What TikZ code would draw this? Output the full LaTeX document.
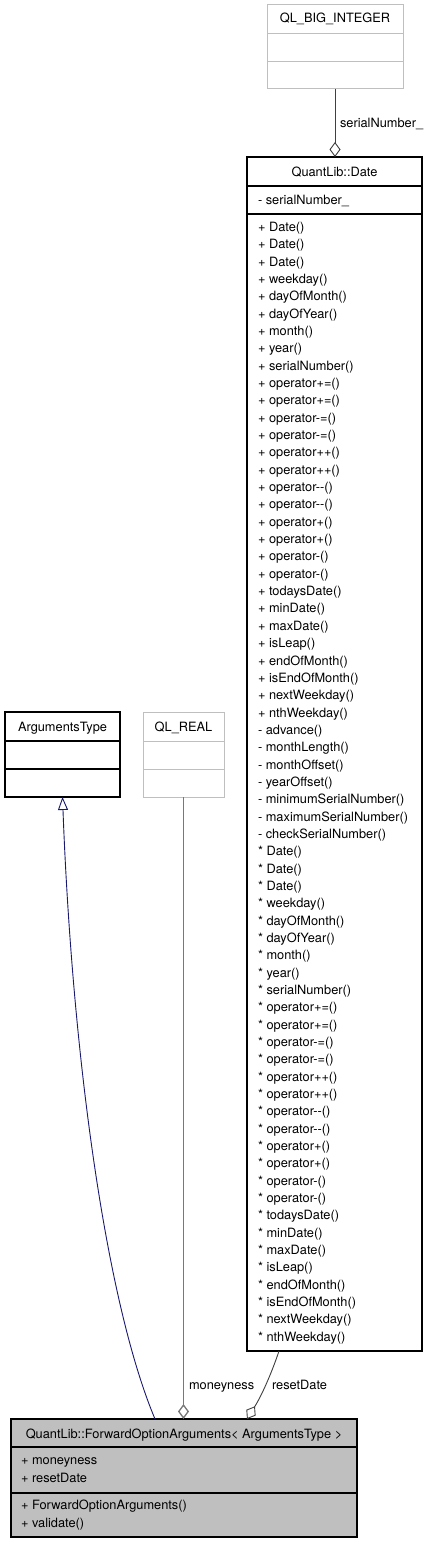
\documentclass[tikz,border=0pt]{standalone}
\usepackage{fontspec}
\setmainfont{TeX Gyre Heros}
\usetikzlibrary{arrows.meta}
\definecolor{boxgray}{RGB}{191,191,191}
\definecolor{darkedge}{RGB}{64,64,64}
\definecolor{midedge}{RGB}{120,120,120}
\definecolor{navyedge}{RGB}{25,25,112}
\tikzset{
  txt/.style={font=\fontsize{12.8}{15}\selectfont, inner sep=0pt, outer sep=0pt},
  boxblack/.style={draw=black, line width=1.2pt, inner sep=0pt, outer sep=0pt, anchor=north west},
  boxlight/.style={draw=boxgray, line width=1pt, inner sep=0pt, outer sep=0pt, anchor=north west},
  boxfill/.style={draw=black, fill=boxgray, line width=1.1pt, inner sep=0pt, outer sep=0pt, anchor=north west},
  sepblack/.style={draw=black, line width=1.2pt},
  seplight/.style={draw=boxgray, line width=1pt},
  aggr/.style={line width=0.9pt, -{Diamond[open, length=15pt, width=11pt]}},
  inherit/.style={draw=navyedge, line width=0.9pt, -{Triangle[open, length=13pt, width=10pt]}},
  elabel/.style={txt, anchor=base west}
}
\begin{document}
\begin{tikzpicture}[x=1pt,y=-1pt]
\useasboundingbox (0,0) rectangle (429,1544);
\fill[white] (0,0) rectangle (429,1544);

% QL_BIG_INTEGER
\node[boxlight, minimum width=136pt, minimum height=84pt] (bigint) at (267,5) {};
\draw[seplight] (267,34) -- (403,34);
\draw[seplight] (267,62) -- (403,62);
\node[txt, anchor=base] (bigintT) at (335,23) {QL\_BIG\_INTEGER};

% QuantLib::Date
\node[boxblack, minimum width=175pt, minimum height=1194pt] (date) at (247,157) {};
\draw[sepblack] (247,186) -- (422,186);
\draw[sepblack] (247,214) -- (422,214);
\node[txt, anchor=base] (dateT) at (334.5,176) {QuantLib::Date};
\node[txt, anchor=base west] (dateA) at (258,204.5) {- serialNumber\_};
\foreach \t [count=\i from 0] in {Date(),Date(),Date(),weekday(),dayOfMonth(),dayOfYear(),month(),year(),serialNumber(),operator+=(),operator+=(),operator-=(),operator-=(),operator++(),operator++(),operator-{}-(),operator-{}-(),operator+(),operator+(),operator-(),operator-(),todaysDate(),minDate(),maxDate(),isLeap(),endOfMonth(),isEndOfMonth(),nextWeekday(),nthWeekday()}
  \node[txt, anchor=base west] (dp\i) at (258,{231.5+17.34*\i}) {+ \t};
\foreach \t [count=\i from 29] in {advance(),monthLength(),monthOffset(),yearOffset(),minimumSerialNumber(),maximumSerialNumber(),checkSerialNumber()}
  \node[txt, anchor=base west] (dq\i) at (258,{231.5+17.34*\i}) {- \t};
\foreach \t [count=\i from 36] in {Date(),Date(),Date(),weekday(),dayOfMonth(),dayOfYear(),month(),year(),serialNumber(),operator+=(),operator+=(),operator-=(),operator-=(),operator++(),operator++(),operator-{}-(),operator-{}-(),operator+(),operator+(),operator-(),operator-(),todaysDate(),minDate(),maxDate(),isLeap(),endOfMonth(),isEndOfMonth(),nextWeekday(),nthWeekday()}
  \node[txt, anchor=base west] (ds\i) at (258,{231.5+17.34*\i}) {* \t};

% ArgumentsType
\node[boxblack, minimum width=115pt, minimum height=85pt] (argtype) at (5,712) {};
\draw[sepblack] (5,741) -- (120,741);
\draw[sepblack] (5,769) -- (120,769);
\node[txt, anchor=base] (argtypeT) at (62.5,731.5) {ArgumentsType};

% QL_REAL
\node[boxlight, minimum width=81pt, minimum height=85pt] (qlreal) at (143,712) {};
\draw[seplight] (143,741) -- (224,741);
\draw[seplight] (143,769) -- (224,769);
\node[txt, anchor=base] (qlrealT) at (183.5,731.5) {QL\_REAL};

% ForwardOptionArguments
\node[boxfill, minimum width=346pt, minimum height=118pt] (fwd) at (11,1419) {};
\draw[sepblack, line width=1.1pt] (11,1447) -- (357,1447);
\draw[sepblack, line width=1.1pt] (11,1493) -- (357,1493);
\node[txt, anchor=base] (fwdT) at (184,1438) {QuantLib::ForwardOptionArguments< ArgumentsType >};
\node[txt, anchor=base west] (fwdA1) at (21,1464.5) {+ moneyness};
\node[txt, anchor=base west] (fwdA2) at (21,1482) {+ resetDate};
\node[txt, anchor=base west] (fwdM1) at (21,1509.5) {+ ForwardOptionArguments()};
\node[txt, anchor=base west] (fwdM2) at (21,1527) {+ validate()};

% edges
\draw[aggr, draw=darkedge] (bigint.south) -- (bigint.south |- date.north);
\node[elabel] (lblSerial) at (340,127.5) {serialNumber\_};

\draw[aggr, draw=midedge, line width=1.3pt] (qlreal.south) -- (qlreal.south |- fwd.north);
\node[elabel] (lblMoney) at (189,1389) {moneyness};

\coordinate (rdStart) at ([xshift=32pt]date.south west);
\coordinate (rdEnd) at ([xshift=236pt]fwd.north west);
\draw[aggr, draw=darkedge] (rdStart) .. controls (272,1372) and (262,1395) .. (rdEnd);
\node[elabel] (lblReset) at (272,1389) {resetDate};

\coordinate (inhStart) at ([xshift=144pt]fwd.north west);
\draw[inherit] (inhStart) .. controls (105,1300) and (72,1050) .. (argtype.south);
\end{tikzpicture}
\end{document}
